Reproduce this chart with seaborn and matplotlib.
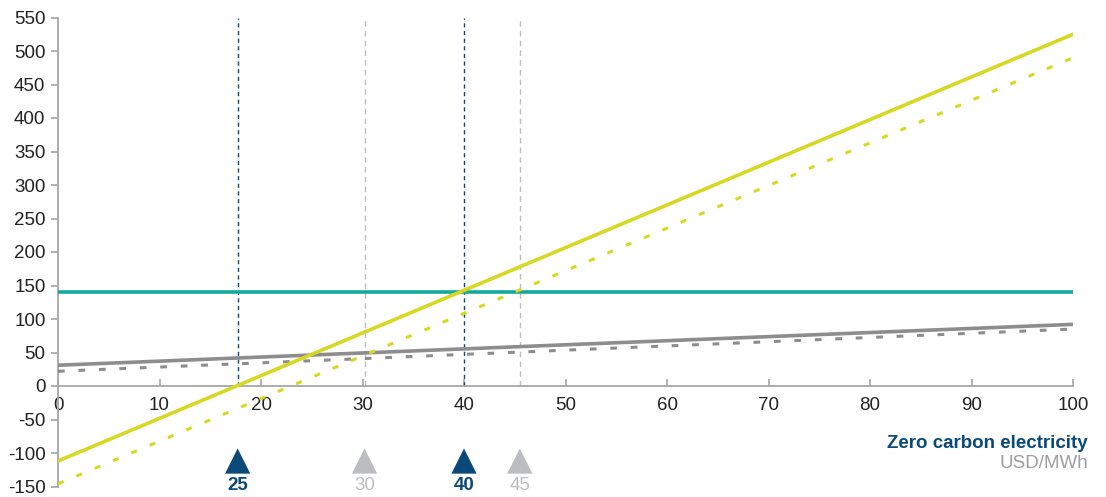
import matplotlib
matplotlib.use("Agg")
import matplotlib.pyplot as plt
import seaborn as sns
import pandas as pd

sns.set_theme(style="white")
plt.rcParams['font.family'] = ['Liberation Sans', 'DejaVu Sans']
plt.rcParams['axes.unicode_minus'] = False

# Data
x_ends = [0, 100]
yellow_solid = [-112, 525]
yellow_dotted = [-146, 490]
teal_flat = [141, 141]
gray_solid = [31, 92]
gray_dotted = [22, 85]

marker_x = [17.7, 30.2, 40.0, 45.5]
marker_labels = ["25", "30", "40", "45"]
marker_dark = [True, False, True, False]

yticks = list(range(-150, 551, 50))
xticks = list(range(0, 101, 10))

YELLOW = "#d8d823"
TEAL = "#14a99b"
GRAY = "#8d8d8f"
DARK = "#0b4a78"
LIGHT = "#bcbdc0"

fig = plt.figure(figsize=(11.06, 4.97), dpi=100)
ax = fig.add_axes([58/1106, 1-486.5/497, (1073-58)/1106, (486.5-17.5)/497])

# Vertical reference lines
for xv, dk in zip(marker_x, marker_dark):
    ax.vlines(xv, 0, 550, colors=DARK if dk else LIGHT, linestyles=(0, (3, 2.5)) if dk else (0, (4, 3)),
              linewidth=1.0, zorder=1)

def line(vals, color, ls, lw):
    df = pd.DataFrame({"x": x_ends, "y": vals})
    sns.lineplot(data=df, x="x", y="y", ax=ax, color=color, linewidth=lw, linestyle=ls, zorder=3)

line(gray_dotted, GRAY, (0, (2.2, 4.5)), 2.2)
line(gray_solid, GRAY, "-", 2.6)
line(teal_flat, TEAL, "-", 2.6)
line(yellow_dotted, YELLOW, (0, (2.0, 4.5)), 2.2)
line(yellow_solid, YELLOW, "-", 2.6)

# Triangle markers and labels
mdf = pd.DataFrame({"x": marker_x, "y": [-112] * 4, "dk": marker_dark})
for dk in [True, False]:
    sub = mdf[mdf.dk == dk]
    sns.scatterplot(data=sub, x="x", y="y", ax=ax, marker="^", s=330, color=DARK if dk else LIGHT,
                    edgecolor="none", zorder=4, clip_on=False)
for xv, lab, dk in zip(marker_x, marker_labels, marker_dark):
    ax.text(xv, -148, lab, ha="center", va="center", fontsize=13.5,
            color=DARK if dk else LIGHT, fontweight="bold" if dk else "normal")

ax.text(1088/1106, 1 - 444/497, "Zero carbon electricity", transform=fig.transFigure, ha="right",
        va="center", fontsize=13.5, fontweight="bold", color=DARK)
ax.text(1088/1106, 1 - 463/497, "USD/MWh", transform=fig.transFigure, ha="right",
        va="center", fontsize=13.5, color="#9d9ea1")

ax.set_xlim(0, 100)
ax.set_ylim(-150, 550)
ax.set_xticks(xticks)
ax.set_yticks(yticks)
ax.set_xlabel("")
ax.set_ylabel("")

for s in ["top", "right"]:
    ax.spines[s].set_visible(False)
ax.spines["bottom"].set_position(("data", 0))
for s in ["bottom", "left"]:
    ax.spines[s].set_color("#a6a6a6")
    ax.spines[s].set_linewidth(1.3)

ax.tick_params(axis="x", direction="in", length=5, width=1.2, color="#a6a6a6",
               labelsize=13.5, labelcolor="#222222", pad=8, bottom=True)
ax.tick_params(axis="y", direction="out", length=5, width=1.2, color="#a6a6a6",
               labelsize=13.5, labelcolor="#222222", pad=4, left=True)

fig.savefig("out.png", dpi=100)
